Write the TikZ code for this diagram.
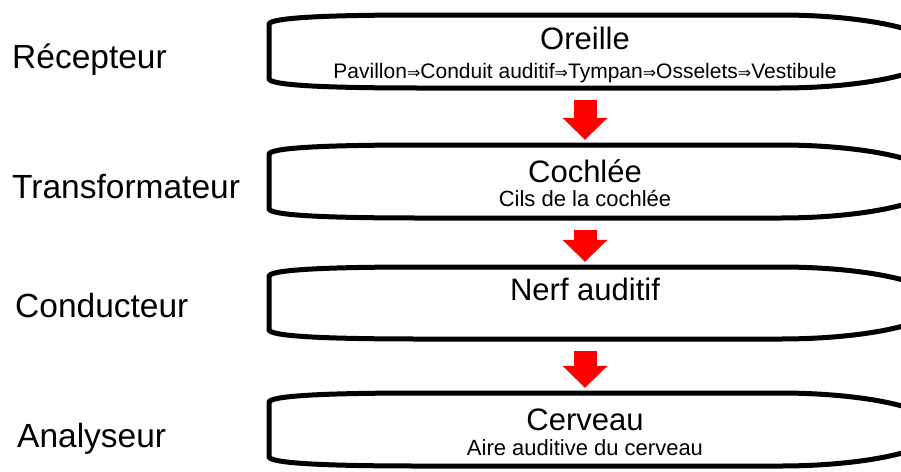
\documentclass[tikz,border=0pt]{standalone}
\usepackage{fontspec}
\setmainfont{Liberation Sans}
\newfontfamily\symfont{DejaVu Sans}
\usetikzlibrary{calc,arrows.meta}
\newcommand\boxoutline[2]{%
  \draw[boxline] (269,#1+9) .. controls (271,#1+3) and (320,#1) .. (420,#1) -- (780,#1)
    .. controls (868,#1) and (940,{(#1+#2)/2-20}) .. (940,{(#1+#2)/2})
    .. controls (940,{(#1+#2)/2+20}) and (868,#2) .. (780,#2) -- (420,#2)
    .. controls (320,#2) and (271,#2-3) .. (269,#2-9) -- cycle;}
\newcommand\darr{{\symfont\fontsize{16}{16}\selectfont ⇒}}
\begin{document}
\begin{tikzpicture}[x=1pt,y=-1pt,
  boxline/.style={line width=5pt,line join=round},
  boxarea/.style={draw=none,minimum width=632pt,inner sep=0pt},
  side/.style={anchor=base west,inner sep=0pt,font=\fontsize{33.5}{40}\selectfont},
  title/.style={anchor=base,inner sep=0pt,font=\fontsize{31}{36}\selectfont},
  subtitle/.style={anchor=base,inner sep=0pt,font=\fontsize{22}{26}\selectfont},
  flow/.style={draw=red,line width=23pt,line cap=butt,
    -{Triangle[width=45pt,length=22pt,line width=0pt]},shorten <=12pt,shorten >=5pt}]
\useasboundingbox (0,0) rectangle (901,471);
\clip (0,0) rectangle (901,471);
% box areas
\node[boxarea,minimum height=73pt] (b1) at (585,51.5) {};
\node[boxarea,minimum height=73pt] (b2) at (585,181.5) {};
\node[boxarea,minimum height=72pt] (b3) at (585,303) {};
\node[boxarea,minimum height=73pt] (b4) at (585,429.5) {};
\boxoutline{15}{88}
\boxoutline{145}{218}
\boxoutline{267}{339}
\boxoutline{393}{466}
% side labels
\node[side] (l1) at (12,68) {Récepteur};
\node[side] (l2) at (12,198) {Transformateur};
\node[side] (l3) at (15,317) {Conducteur};
\node[side] (l4) at (17,447) {Analyseur};
% box texts
\node[title] (t1) at (585,49) {Oreille};
\node[anchor=base,inner sep=0pt,font=\fontsize{21}{25}\selectfont] (s1) at (585,78)
  {Pavillon\darr Conduit auditif\darr Tympan\darr Osselets\darr Vestibule};
\node[title] (t2) at (585,182) {Cochlée};
\node[subtitle] (s2) at (585,206) {Cils de la cochlée};
\node[title] (t3) at (585,300) {Nerf auditif};
\node[title] (t4) at (585,430) {Cerveau};
\node[subtitle] (s4) at (585,455) {Aire auditive du cerveau};
% arrows
\draw[flow] (b1.south) -- (b2.north);
\draw[flow] (b2.south) -- (b3.north);
\draw[flow] (b3.south) -- (b4.north);
\end{tikzpicture}
\end{document}
